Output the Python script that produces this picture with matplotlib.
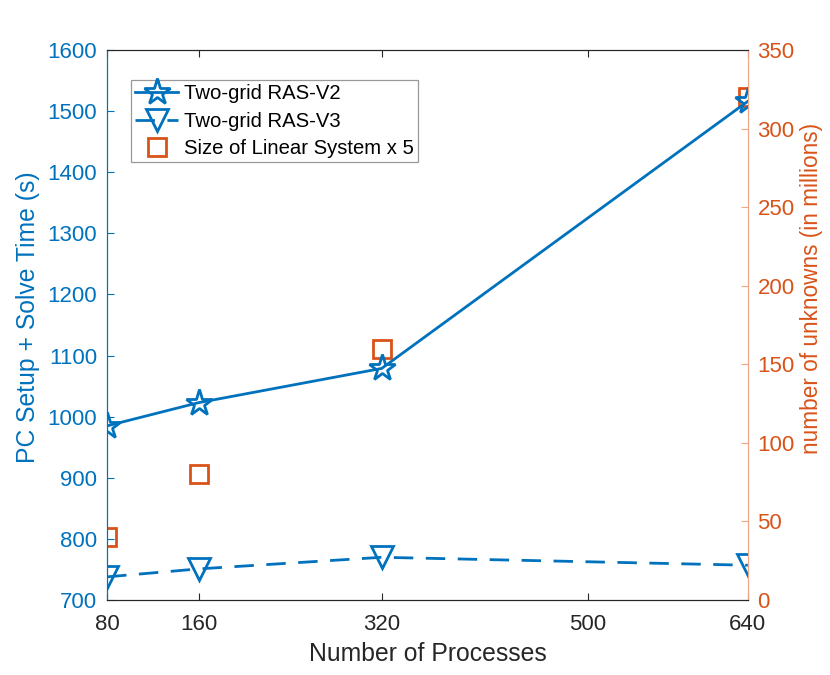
import numpy as np
import matplotlib.pyplot as plt

plt.rcParams['font.family'] = ['Liberation Sans', 'DejaVu Sans']

procs = [80, 160, 320, 640]
ras_v2 = [985, 1023, 1079, 1516]
ras_v3 = [738, 751, 770, 757]
size_x5 = [40, 80, 160, 320]
xticks = [80, 160, 320, 500, 640]

blue = '#0072BD'
orange = '#D95319'
orange_light = '#EFA587'
dark = '#262626'

fig = plt.figure(figsize=(8.3, 6.75), dpi=100)
ax = fig.add_axes([0.129, 0.111, 0.772, 0.815])
ax2 = ax.twinx()

l1, = ax.plot(procs, ras_v2, '-', color=blue, lw=2, marker='*', ms=20,
              mfc='none', mew=2, label='Two-grid RAS-V2')
l2, = ax.plot(procs, ras_v3, '--', color=blue, lw=2, marker='v', ms=16,
              mfc='none', mew=2, label='Two-grid RAS-V3', dashes=(7, 4.5))
l3, = ax2.plot(procs, size_x5, 's', color=orange, ms=13, mfc='none', mew=2,
               label='Size of Linear System x 5')
ax.set_zorder(ax2.get_zorder() + 1)
ax.patch.set_visible(False)

ax.set_xlim(80, 640)
ax.set_xticks(xticks)
ax.set_ylim(700, 1600)
ax.set_yticks(np.arange(700, 1601, 100))
ax2.set_ylim(0, 350)
ax2.set_yticks(np.arange(0, 351, 50))

ax.set_xlabel('Number of Processes', fontsize=17.8, color=dark, labelpad=5)
ax.set_ylabel('PC Setup + Solve Time (s)', fontsize=17.8, color=blue)
ax2.set_ylabel('number of unknowns (in millions)', fontsize=16.3, color=orange)
ax.yaxis.set_label_coords(-0.104, 0.515)
ax2.yaxis.set_label_coords(1.081, 0.567)

ax.tick_params(axis='x', colors=dark, labelsize=16, direction='in', length=5, pad=10,
               top=True)
ax.tick_params(axis='y', colors=blue, labelsize=16, direction='in', length=5, pad=7)
ax2.tick_params(axis='y', color=orange_light, labelcolor=orange, labelsize=16,
                direction='in', length=5, pad=7)

for a in (ax, ax2):
    a.spines['left'].set_color(blue)
    a.spines['right'].set_color(orange_light)
    a.spines['top'].set_color(dark)
    a.spines['bottom'].set_color(dark)
    for s in a.spines.values():
        s.set_linewidth(0.8)

leg = ax.legend(handles=[l1, l2, l3], loc='upper left', bbox_to_anchor=(0.038, 0.945),
                fontsize=14.6, frameon=True, fancybox=False, edgecolor='#808080',
                borderpad=0.2, labelspacing=0.42, handlelength=2.1, handletextpad=0.3,
                borderaxespad=0)
leg.get_frame().set_linewidth(0.9)

fig.savefig('out.png', dpi=100)
